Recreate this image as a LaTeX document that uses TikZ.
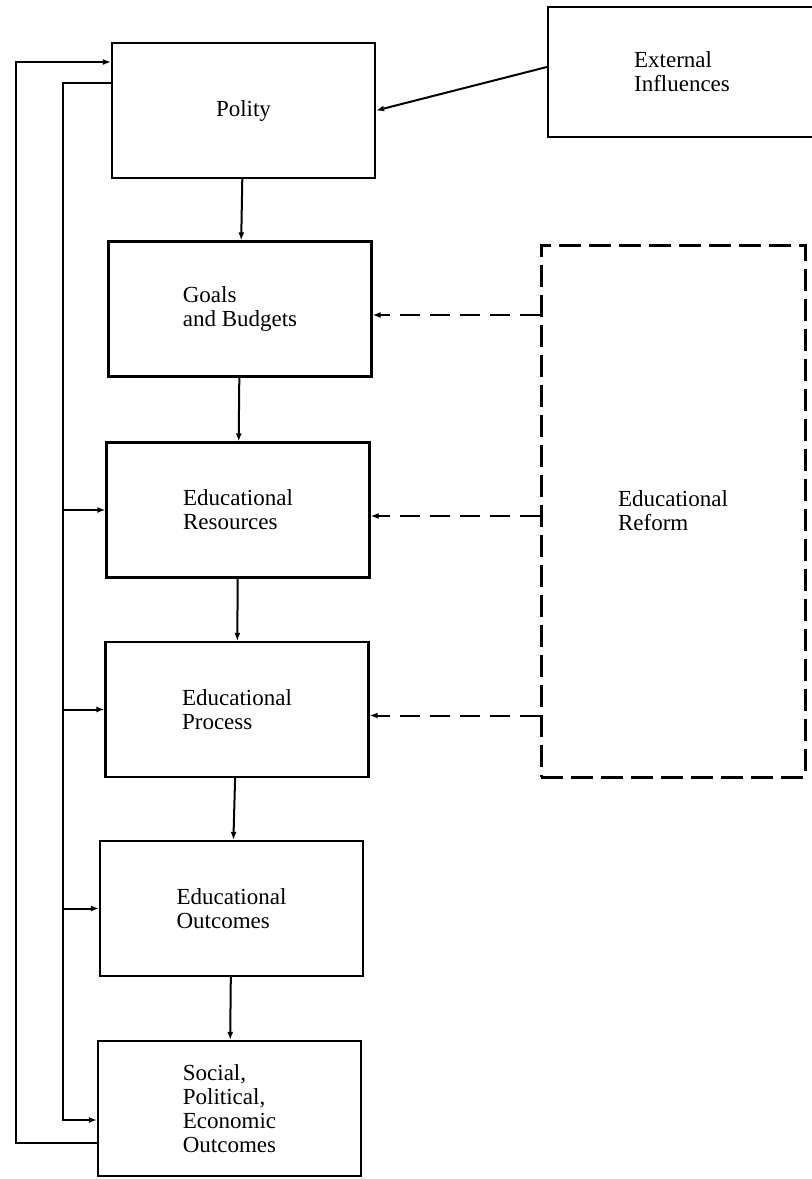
\documentclass[tikz,border=0pt]{standalone}
\usepackage{fontspec}
\setmainfont{Liberation Serif}
\usetikzlibrary{arrows.meta,positioning,calc}

\begin{document}
\begin{tikzpicture}[x=0.5pt, y=-0.5pt,
  box/.style={draw, line width=1.1pt, minimum width=131.5pt, minimum height=67.5pt,
    align=left, font=\fontsize{11.5}{12}\selectfont},
  reformbox/.style={box, line width=1.5pt, dash pattern=on 11pt off 4pt,
    minimum width=132pt, minimum height=266pt},
  arrow/.style={-{Latex[length=4pt,width=3pt]}, line width=1pt},
  dasharrow/.style={arrow, dash pattern=on 10pt off 5pt}
]
\useasboundingbox (0,0) rectangle (811,1179);
\node[box] (polity) at (243.5,110.5) {Polity};
\node[box] (goals) at (240,309) {Goals\\and Budgets};
\node[box] (res) at (238,510) {Educational\\Resources};
\node[box] (proc) at (237,709.5) {Educational\\Process};
\node[box] (outc) at (231.5,908.5) {Educational\\Outcomes};
\node[box] (social) at (229.5,1108.5) {Social,\\Political,\\Economic\\Outcomes};
\node[box, minimum width=134pt, minimum height=65pt] (ext) at (682,72) {External\\Influences};
\node[reformbox] (reform) at (673,511) {Educational\\Reform};
\coordinate (outtop) at (16,62);
\coordinate (outbot) at (16,1143);
\coordinate (intop) at (63,83);
\coordinate (inbot) at (63,1120);
\foreach \a/\b in {polity/goals, goals/res, res/proc, proc/outc, outc/social}
  \draw[arrow] (\a) -- (\b);
\draw[arrow] ([yshift=2.5pt]ext.west) -- (polity.east);
\foreach \b in {goals, res, proc}
  \draw[dasharrow] ($(\b.east -| reform.west)+(0,6)$) -- ($(\b.east)+(0,6)$);
\draw[arrow] (outbot -| social.west) -- (outbot) -- (outtop) -- (outtop -| polity.west);
\draw[arrow] (intop -| polity.west) -- (intop) -- (inbot) -- (inbot -| social.west);
\foreach \b in {res, proc, outc}
  \draw[arrow] (intop |- \b.west) -- (\b.west);
\end{tikzpicture}
\end{document}
